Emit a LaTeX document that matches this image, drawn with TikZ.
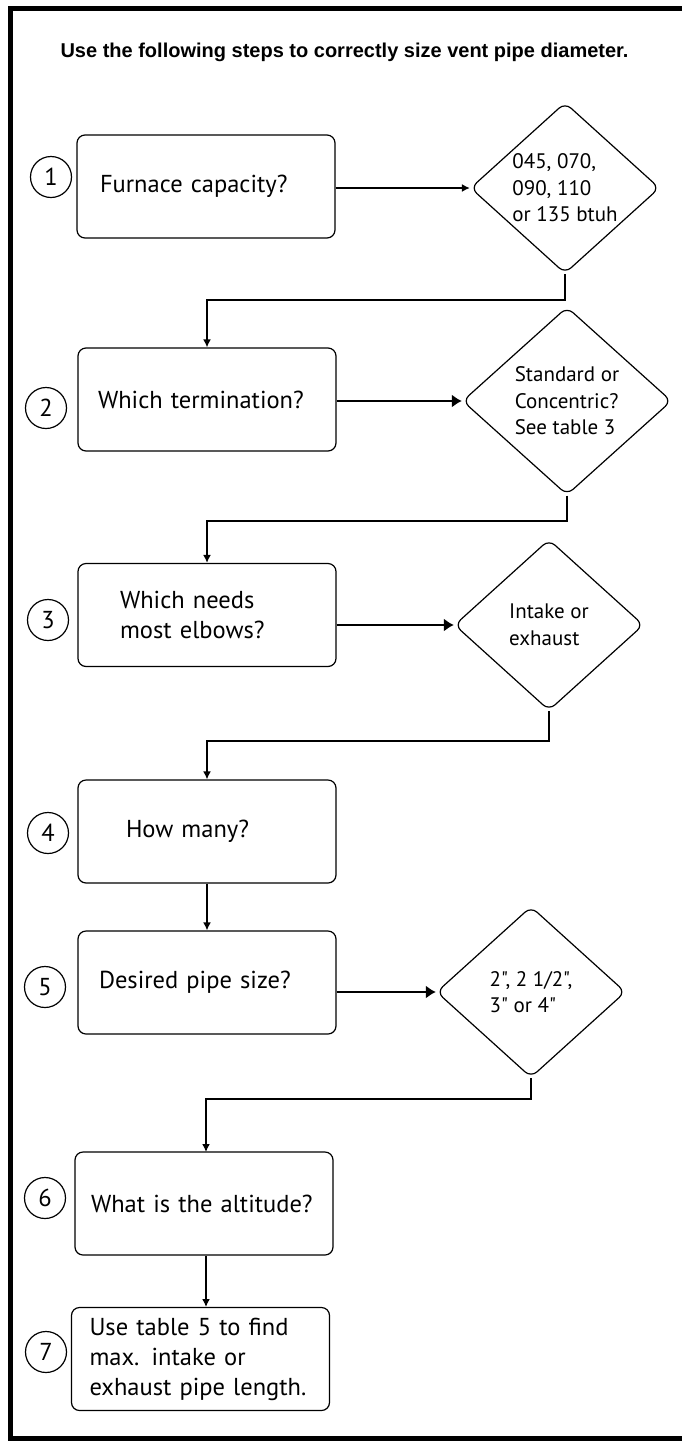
\documentclass[tikz,border=0pt]{standalone}
\usepackage{fontspec}
\setmainfont{PT Sans}
\newfontfamily\titlefont{Liberation Sans}
\newfontfamily\diafamily{PT Sans}
\usetikzlibrary{shapes.geometric,arrows.meta}
\newcommand{\boxfont}{\fontsize{24.5}{30}\selectfont}
\newcommand{\diafont}{\diafamily\fontsize{21}{26.5}\selectfont}
\tikzset{
 b/.style
  = {rectangle, draw, rounded corners=8pt, line width=1.2pt, minimum width=258pt,
     minimum height=103pt, text width=242pt, inner xsep=8pt, inner ysep=0pt,
     align=left, font=\boxfont},
 c/.style
  = {circle, draw, line width=1.2pt, minimum size=41pt, inner sep=0pt, font=\boxfont},
 d/.style
  = {diamond, draw, rounded corners=8pt, line width=1.2pt, inner sep=-4pt,
     minimum width=189pt, minimum height=171pt, aspect=1.1, align=left, font=\diafont},
 l/.style
  = {draw, -{Latex[length=8pt,width=8pt]}, line width=1.8pt},
 lb/.style
  = {draw, -{Latex[length=10pt,width=13pt]}, line width=1.8pt},
 mylabel/.style
  = {font=\titlefont\bfseries\fontsize{20}{24}\selectfont}
}
\begin{document}
\begin{tikzpicture}[x=1pt, y=-1pt]
    \useasboundingbox (0,0) rectangle (681,1441);
    \draw [line width=5pt] (10,8.5) rectangle (700,1438.5);
    \node [mylabel] (title) at (344.5,52) {Use the following steps to correctly size vent pipe diameter.};

    % steps
    \node [b] (capacity) at (206,186.5) {\hspace*{15pt}Furnace capacity?};
    \node [b] (termination) at (207,399.5) {\hspace*{12pt}Which termination?};
    \node [b] (elbows) at (207,615) {\hspace*{34pt}Which needs\\ \hspace*{34pt}most elbows?};
    \node [b] (howmany) at (207,831.5) {\hspace*{40pt}How many?};
    \node [b] (pipesize) at (207,982.5) {\hspace*{13pt}Desired pipe size?};
    \node [b] (altitude) at (204,1203.5) {\hspace*{8pt}What is the altitude?};
    \node [b] (pipelength) at (200.5,1359) {\hspace*{10pt}Use table 5 to find\\ \hspace*{10pt}max. intake or\\ \hspace*{10pt}exhaust pipe length.};

    \node [c] (one) at (51,177) {1};
    \node [c] (two) at (46,408) {2};
    \node [c] (three) at (48,620) {3};
    \node [c] (four) at (48,833) {4};
    \node [c] (five) at (45,987) {5};
    \node [c] (six) at (45,1198) {6};
    \node [c] (seven) at (46,1352) {7};

    % answers
    \node [d] (btuh) at (565,188) {045, 070,\\ 090, 110\\ or 135 btuh};
    \node [d, minimum width=209pt, minimum height=188pt] (concentric) at (567,401) {Standard or\\ Concentric?\\ See table 3};
    \node [d] (intake) at (549,625) {Intake or\\ exhaust};
    \node [d] (sizes) at (531,992) {2", 2 1/2",\\ 3" or 4"};

    \path [l] (capacity.east |- btuh.west) -- (btuh.west);
    \path [l] (btuh.south) -- ++(0,26) -| (termination.north);
    \path [lb] (termination.east |- concentric.west) -- (concentric.west);
    \path [l] (concentric.south) -- ++(0,25) -| (elbows.north);
    \path [lb] (elbows.east |- intake.west) -- (intake.west);
    \path [l] (intake.south) -- ++(0,30) -| (howmany.north);
    \path [l] (howmany.south) -- (pipesize.north);
    \path [lb] (pipesize.east |- sizes.west) -- (sizes.west);
    \path [l] (sizes.south) -- ++(0,21) -| (206,1152);
    \path [l] (altitude.south -| 206,0) -- (206,1307);

\end{tikzpicture}
\end{document}
